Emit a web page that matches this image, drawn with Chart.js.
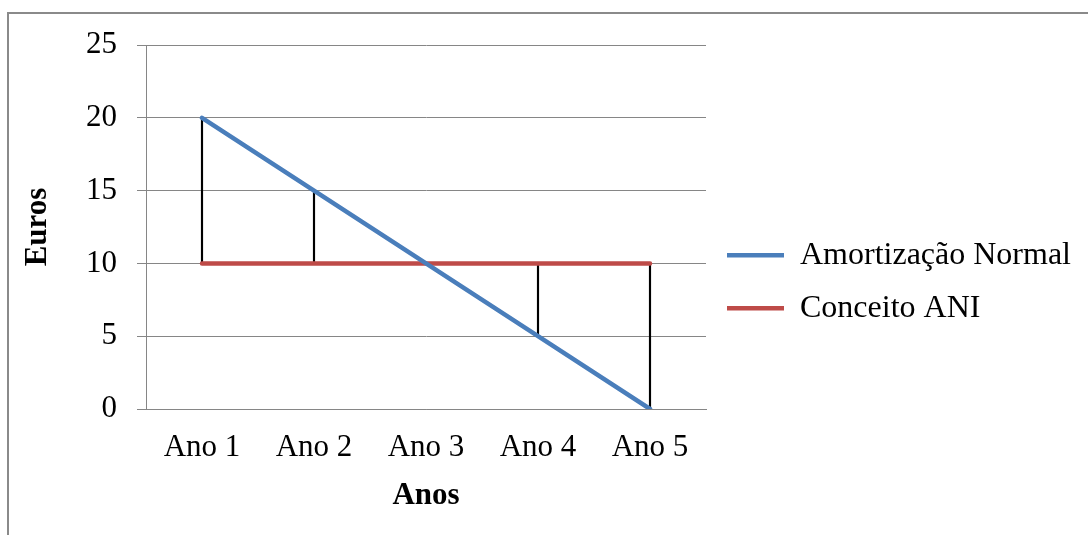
<!DOCTYPE html>
<html>
<head>
<meta charset="utf-8">
<script src="https://cdn.jsdelivr.net/npm/chart.js@4/dist/chart.umd.min.js"></script>
<style>
  html, body { margin: 0; padding: 0; background: #fff; overflow: hidden; }
  #frame { position: absolute; left: 7px; top: 12px; width: 1200px; height: 700px;
           border-top: 2px solid #8a8a8a; border-left: 2px solid #8a8a8a; }
  #wrap { position: absolute; left: 0; top: 0; width: 1088px; height: 535px; }
</style>
</head>
<body>
<div id="frame"></div>
<div id="wrap"><canvas id="chart"></canvas></div>
<script>
const categories = ['Ano 1', 'Ano 2', 'Ano 3', 'Ano 4', 'Ano 5'];
const amortizacaoNormal = [20, 15, 10, 5, 0];
const conceitoANI = [10, 10, 10, 10, 10];
const yMin = 0;
const yMax = 25;
const yStep = 5;

// high-low lines between the two series
const hiLo = categories.map((c, i) => [conceitoANI[i], amortizacaoNormal[i]]);

const serif = "'Liberation Serif', 'Times New Roman', serif";
const gridColor = '#868686';

new Chart(document.getElementById('chart'), {
    type: 'line',
    data: {
        labels: categories,
        datasets: [{
            label: 'Amortização Normal',
            data: amortizacaoNormal,
            borderColor: '#4a7ebb',
            backgroundColor: '#4a7ebb',
            borderWidth: 4.5,
            borderCapStyle: 'round',
            pointRadius: 0,
            tension: 0,
            order: 1
        }, {
            label: 'Conceito ANI',
            data: conceitoANI,
            borderColor: '#be4b48',
            backgroundColor: '#be4b48',
            borderWidth: 4.5,
            borderCapStyle: 'round',
            pointRadius: 0,
            tension: 0,
            order: 2
        }, {
            type: 'bar',
            label: 'hilo',
            data: hiLo,
            backgroundColor: '#000',
            barThickness: 1.5,
            order: 3
        }]
    },
    options: {
        responsive: true,
        maintainAspectRatio: false,
        animation: false,
        layout: { padding: { left: 19, top: 45, right: 7, bottom: 20 } },
        plugins: {
            tooltip: { enabled: false },
            legend: {
                position: 'right',
                align: 'center',
                maxWidth: 500,
                title: { display: true, text: '', padding: 0, font: { size: 3 } },
                labels: {
                    usePointStyle: true,
                    pointStyle: 'line',
                    pointStyleWidth: 57,
                    padding: 21,
                    color: '#000',
                    font: { family: serif, size: 32 },
                    filter: item => item.datasetIndex < 2
                }
            }
        },
        scales: {
            x: {
                offset: true,
                grid: { display: true, drawOnChartArea: false, drawTicks: false },
                border: { display: true, color: gridColor, width: 1 },
                ticks: { color: '#000', padding: 20, font: { family: serif, size: 31 } },
                title: { display: true, text: 'Anos', color: '#000', padding: 0,
                         font: { family: serif, size: 31, weight: 'bold' } },
                afterFit: scale => { scale.height = 106; }
            },
            y: {
                min: yMin,
                max: yMax,
                grid: { color: gridColor, lineWidth: 1, tickLength: 9 },
                border: { display: true, color: gridColor, width: 1 },
                ticks: { stepSize: yStep, color: '#000', padding: 20, font: { family: serif, size: 31 } },
                title: { display: true, text: 'Euros', color: '#000', padding: 0,
                         font: { family: serif, size: 31, weight: 'bold' } },
                afterFit: scale => { scale.width = 127; }
            }
        }
    }
});
</script>
</body>
</html>
